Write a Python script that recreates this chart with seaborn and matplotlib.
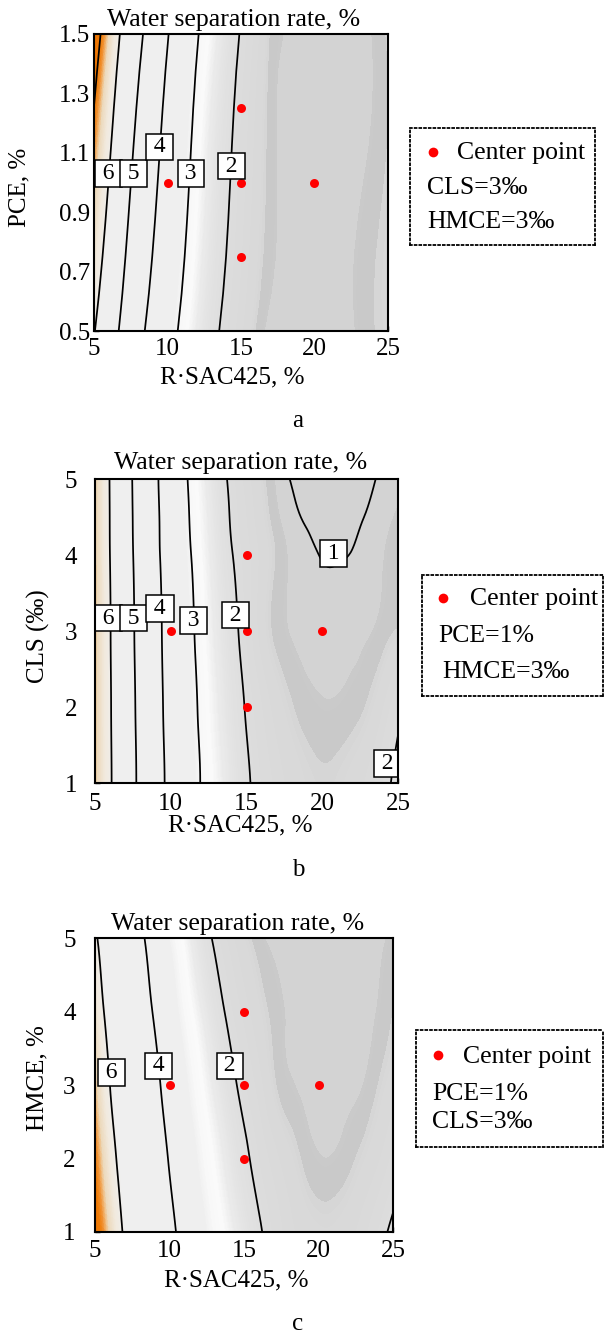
import numpy as np
import matplotlib
matplotlib.use("Agg")
import matplotlib.pyplot as plt
import matplotlib.tri as mtri
from matplotlib.colors import LinearSegmentedColormap, Normalize
import seaborn as sns

# ---------------------------------------------------------------- data ----
# R·SAC425 dosage (%) at which the response surfaces are tabulated
rsac = [5, 6, 7, 8, 9, 10, 11, 12, 13, 14, 15, 16, 17, 18, 19, 20, 21, 22, 23, 24, 25]

# (a) water separation rate (%) vs PCE (%), CLS = HMCE = 3‰
pce = [0.5, 1.5]
wsr_pce = [
    [6.04, 5.41, 4.81, 4.23, 3.74, 3.29, 2.88, 2.52, 2.17, 1.85, 1.57,
     1.29, 1.13, 1.09, 1.06, 1.05, 1.07, 1.12, 1.20, 1.29, 1.36],
    [7.35, 6.57, 5.83, 5.20, 4.61, 4.04, 3.54, 3.05, 2.68, 2.32, 1.96,
     1.61, 1.28, 1.17, 1.10, 1.06, 1.05, 1.07, 1.11, 1.19, 1.32],
]

# (b) water separation rate (%) vs CLS (‰), PCE = 1 %, HMCE = 3‰
cls = [1, 2, 3, 4, 4.5, 5]
wsr_cls = [
    [6.68, 6.06, 5.44, 4.84, 4.30, 3.81, 3.39, 2.98, 2.68, 2.37, 2.07,
     1.82, 1.62, 1.47, 1.37, 1.33, 1.35, 1.43, 1.58, 1.83, 2.15],
    [6.67, 6.04, 5.41, 4.80, 4.25, 3.76, 3.32, 2.91, 2.59, 2.27, 1.96,
     1.68, 1.45, 1.31, 1.23, 1.195, 1.20, 1.24, 1.32, 1.52, 1.85],
    [6.67, 6.02, 5.37, 4.76, 4.21, 3.71, 3.24, 2.83, 2.49, 2.16, 1.80,
     1.45, 1.25, 1.165, 1.115, 1.09, 1.09, 1.12, 1.16, 1.23, 1.31],
    [6.66, 5.99, 5.33, 4.71, 4.15, 3.64, 3.15, 2.75, 2.39, 2.03, 1.74,
     1.48, 1.28, 1.14, 1.05, 0.99, 0.985, 1.01, 1.08, 1.17, 1.28],
    [6.65, 5.98, 5.31, 4.69, 4.13, 3.61, 3.10, 2.70, 2.33, 1.96, 1.67,
     1.41, 1.21, 1.06, 0.97, 0.93, 0.92, 0.95, 1.02, 1.11, 1.21],
    [6.65, 5.97, 5.29, 4.67, 4.10, 3.57, 3.05, 2.65, 2.27, 1.90, 1.60,
     1.35, 1.15, 0.98, 0.90, 0.86, 0.86, 0.90, 0.96, 1.04, 1.14],
]

# (c) water separation rate (%) vs HMCE (%), PCE = 1 %, CLS = 3‰
hmce = [1, 2, 3, 4, 5]
wsr_hmce = [
    [7.18, 6.54, 5.90, 5.28, 4.72, 4.21, 3.75, 3.33, 2.94, 2.65, 2.35,
     2.06, 1.80, 1.60, 1.47, 1.40, 1.40, 1.47, 1.62, 1.84, 2.10],
    [6.93, 6.27, 5.63, 4.99, 4.47, 3.95, 3.51, 3.07, 2.73, 2.42, 2.11,
     1.83, 1.60, 1.42, 1.27, 1.19, 1.19, 1.25, 1.36, 1.51, 1.72],
    [6.68, 6.00, 5.35, 4.74, 4.20, 3.70, 3.23, 2.83, 2.50, 2.17, 1.86,
     1.60, 1.33, 1.20, 1.15, 1.125, 1.125, 1.14, 1.18, 1.30, 1.45],
    [6.40, 5.72, 5.04, 4.47, 3.92, 3.42, 2.95, 2.59, 2.24, 1.90, 1.62,
     1.40, 1.25, 1.16, 1.11, 1.09, 1.09, 1.10, 1.13, 1.19, 1.30],
    [6.11, 5.42, 4.77, 4.18, 3.63, 3.11, 2.70, 2.32, 1.94, 1.62, 1.38,
     1.22, 1.14, 1.10, 1.08, 1.07, 1.07, 1.08, 1.10, 1.14, 1.22],
]

# experimental centre points
pts_rsac = [10, 15, 15, 15, 20]
pts_pce = [1.0, 1.25, 1.0, 0.75, 1.0]
pts_cls = [3, 4, 3, 2, 3]
pts_hmce = [3, 4, 3, 2, 3]

title_text = "Water separation rate, %"
x_label = "R·SAC425, %"
x_ticks = [5, 10, 15, 20, 25]
pce_ticks = [0.5, 0.7, 0.9, 1.1, 1.3, 1.5]
pce_ticklabels = ["0.5", "0.7", "0.9", "1.1", "1.3", "1.5"]
five_ticks = [1, 2, 3, 4, 5]

# ---------------------------------------------------------------- style ---
sns.set_theme(style="ticks", rc={
    "axes.edgecolor": "black", "text.color": "black",
    "xtick.color": "black", "ytick.color": "black",
    "axes.labelcolor": "black", "axes.grid": False,
})
plt.rcParams["font.family"] = ["Liberation Serif", "DejaVu Serif"]

W, H = 604, 1334
fig = plt.figure(figsize=(W / 100, H / 100), dpi=100)
fig.patch.set_facecolor("white")

TICK_FS = 18
LABEL_FS = 18
TITLE_FS = 18.5
LEG_FS = 18.5

# grey response palette with an orange head for the highest separation
anchors = [
    (0.80, "#d3d3d3"), (1.16, "#d3d3d3"), (1.175, "#c9c9c9"),
    (1.29, "#c9c9c9"), (1.31, "#d8d8d8"), (1.90, "#dcdcdc"),
    (2.30, "#e3e3e3"), (2.55, "#ebebeb"), (2.75, "#fafafa"),
    (2.95, "#f8f8f8"), (3.15, "#efefef"), (5.90, "#efefef"),
    (6.30, "#f1e9dd"), (6.60, "#ecd9bb"), (6.72, "#f0b878"),
    (6.85, "#f09030"), (7.00, "#ee7a05"), (7.60, "#ee7000"),
]
vmin, vmax = anchors[0][0], anchors[-1][0]
cmap = LinearSegmentedColormap.from_list(
    "wsr", [((v - vmin) / (vmax - vmin), c) for v, c in anchors])
norm = Normalize(vmin, vmax)
fill_levels = np.linspace(vmin, vmax, 341)


def fig_rect(l, t, r, b):
    return [l / W, 1 - b / H, (r - l) / W, (b - t) / H]


def panel(box, yvals, z, ylim, yticks, yticklabels, ylabel, ylab_xy,
          xlab_xy, line_levels, lab_levels, spots, pts_y, ypad, xpad):
    ax = fig.add_axes(fig_rect(*box))
    X, Y = np.meshgrid(rsac, yvals)
    tri = mtri.Triangulation(X.ravel(), Y.ravel())
    tri_f, z_f = mtri.UniformTriRefiner(tri).refine_field(
        np.asarray(z, float).ravel(), subdiv=3)
    ax.tricontourf(tri_f, z_f, levels=fill_levels, cmap=cmap, norm=norm,
                   antialiased=False, zorder=1)
    cs = ax.tricontour(tri_f, z_f, levels=line_levels, colors="black",
                       linewidths=1.25, zorder=3)
    texts = ax.clabel(cs, levels=lab_levels, manual=spots, inline=False,
                      fmt=lambda v: f"\u2009{v:.0f}\u2009", fontsize=17)
    for t, spot in zip(texts, spots):
        t.set_rotation(0)
        t.set_position(spot)
        t.set_ha("center")
        t.set_va("center")
        t.set_bbox(dict(boxstyle="square,pad=0.12", fc="white",
                        ec="black", lw=1.1))
        t.set_zorder(6)
    sns.scatterplot(x=pts_rsac, y=pts_y, color="#ff0000", s=42,
                    linewidth=0, ax=ax, zorder=5, legend=False)
    ax.set_xlim(5, 25)
    ax.set_ylim(*ylim)
    ax.set_xticks(x_ticks)
    ax.set_yticks(yticks)
    ax.set_yticklabels(yticklabels)
    ax.tick_params(direction="in", length=3.5, width=1.0, labelsize=TICK_FS)
    ax.tick_params(axis="y", pad=ypad)
    ax.tick_params(axis="x", pad=xpad)
    for s in ax.spines.values():
        s.set_linewidth(1.5)
        s.set_color("black")
        s.set_zorder(7)
    ax.set_xlabel(x_label, fontsize=LABEL_FS)
    ax.xaxis.label.set_va("baseline")
    ax.xaxis.set_label_coords(*xlab_xy)
    ax.set_ylabel(ylabel, fontsize=LABEL_FS)
    ax.yaxis.label.set_va("center")
    ax.yaxis.set_label_coords(*ylab_xy)
    return ax


def legend_box(box, dot, head, rows):
    l, t, r, b = box
    lax = fig.add_axes(fig_rect(l, t, r, b))
    lax.set_xlim(l, r)
    lax.set_ylim(b, t)
    lax.patch.set_alpha(0)
    lax.set_xticks([])
    lax.set_yticks([])
    for s in lax.spines.values():
        s.set_linestyle((0, (1.0, 1.6)))
        s.set_linewidth(1.3)
        s.set_color("black")
    lax.plot([dot[0]], [dot[1]], "o", color="#ff0000", ms=7, mew=0,
             clip_on=False)
    lax.text(head[0], head[1], "Center point", fontsize=LEG_FS, va="baseline")
    for x, y, s in rows:
        lax.text(x, y, s, fontsize=LEG_FS, va="baseline")


# ---------------------------------------------------------------- (a) -----
panel((94, 34, 388, 331), pce, wsr_pce, (0.5, 1.5), pce_ticks,
      pce_ticklabels, "PCE, %", (-0.255, 0.485), (0.469, -0.176),
      [2, 3, 4, 5, 6, 7], [2, 3, 4, 5, 6],
      [(5.98, 1.03), (7.68, 1.03), (9.45, 1.12), (11.6, 1.03),
       (14.34, 1.055)],
      pts_pce, 3, 5)
fig.text(234 / W, 1 - 26 / H, title_text, ha="center", va="baseline",
         fontsize=TITLE_FS)
fig.text(298 / W, 1 - 427 / H, "a", ha="center", va="baseline",
         fontsize=LABEL_FS)
legend_box((410, 128, 595, 245), (433, 152), (457, 159.5),
           [(427, 194.5, "CLS=3‰"), (427, 227.5, "HMCE=3‰")])

# ---------------------------------------------------------------- (b) -----
panel((95, 479, 398, 783), cls, wsr_cls, (1, 5), five_ticks,
      [str(v) for v in five_ticks], "CLS (‰)", (-0.186, 0.483),
      (0.479, -0.160), [1, 2, 3, 4, 5, 6], [1, 2, 3, 4, 5, 6],
      [(5.88, 3.17), (7.53, 3.17), (9.29, 3.30), (11.49, 3.14),
       (14.29, 3.21), (20.73, 4.02), (24.3, 1.26)],
      pts_cls, 13, 7)
fig.text(241 / W, 1 - 469 / H, title_text, ha="center", va="baseline",
         fontsize=TITLE_FS)
fig.text(298 / W, 1 - 876 / H, "b", ha="center", va="baseline",
         fontsize=LABEL_FS)
legend_box((422, 575, 603, 696), (443, 598), (470, 605.5),
           [(438, 642.5, "PCE=1%"), (442, 677.5, "HMCE=3‰")])

# ---------------------------------------------------------------- (c) -----
panel((95, 938, 393, 1232), hmce, wsr_hmce, (1, 5), five_ticks,
      [str(v) for v in five_ticks], "HMCE, %", (-0.193, 0.524),
      (0.473, -0.186), [2, 4, 6], [2, 4, 6],
      [(6.12, 3.17), (9.25, 3.26), (14.06, 3.26)],
      pts_hmce, 14, 6)
fig.text(237.5 / W, 1 - 930 / H, title_text, ha="center", va="baseline",
         fontsize=TITLE_FS)
fig.text(298 / W, 1 - 1330 / H, "c", ha="center", va="baseline",
         fontsize=LABEL_FS)
legend_box((416, 1030, 603, 1147), (438, 1055), (463, 1062.5),
           [(432, 1099.5, "PCE=1%"), (432, 1128.5, "CLS=3‰")])

fig.savefig("out.png", dpi=100, facecolor="white")
